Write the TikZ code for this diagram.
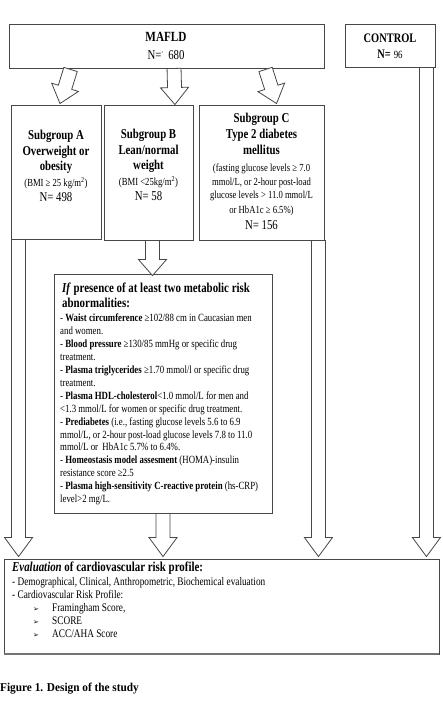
\documentclass[tikz,border=0pt]{standalone}
\usepackage{fontspec}
\setmainfont[FakeStretch=0.8]{Liberation Serif}
\newfontfamily\capfont[FakeStretch=0.94]{Liberation Serif}
\newfontfamily\symfont{DejaVu Sans}
\usetikzlibrary{calc}
\tikzset{
  box/.style={draw=black!72, line width=0.9pt, fill=white, inner sep=0pt},
  barrow/.style={draw=black!72, line width=0.8pt, fill=white, line join=miter},
  txt/.style={inner sep=0pt, align=center},
}
\newcommand\sm{\fontsize{10.8}{11}\selectfont}
\newcommand\blockarrow[3][18]{%
  \path[barrow] let \p1=#2, \p2=#3,
    \n1={atan2(\y2-\y1,\x2-\x1)}, \n2={veclen(\x2-\x1,\y2-\y1)} in
    {[shift={(\p1)}, rotate=\n1] (0,-7) -- ({\n2-#1},-7) -- ({\n2-#1},-14) -- (\n2,0)
      -- ({\n2-#1},14) -- ({\n2-#1},7) -- (0,7) -- cycle};}
\begin{document}
\begin{tikzpicture}[x=1pt,y=-1pt]
\useasboundingbox[fill=white] (0,0) rectangle (443,707);
% boxes
\node[box, minimum width=315pt, minimum height=44pt] (mafld) at (166.5,46) {};
\node[box, minimum width=90pt, minimum height=43pt] (control) at (390,45.5) {};
\node[box, minimum width=90pt, minimum height=134pt] (subA) at (56,172) {};
\node[box, minimum width=89pt, minimum height=135pt] (subB) at (148.5,172.5) {};
\node[box, minimum width=125pt, minimum height=135pt] (subC) at (261.5,172.5) {};
\node[box, minimum width=218pt, minimum height=239pt] (ifbox) at (163,393.5) {};
\node[box, minimum width=435pt, minimum height=95pt] (eval) at (221.5,606.5) {};
\draw[black!55, line width=1.6pt] ($(eval.south west)+(0,-0.6)$) -- ($(eval.south east)+(0,-0.6)$);
% arrows
\blockarrow[17]{($(mafld.south west)+(62,1)$)}{($(subA.north)+(4,-1)$)}
\blockarrow[17]{($(mafld.south west)+(165.5,0)$)}{($(subB.north east)+(-18.5,0)$)}
\blockarrow[17]{($(mafld.south west)+(257,1)$)}{($(subC.north west)+(78,-1)$)}
\blockarrow[19]{($(control.south east)+(-9,0)$)}{($(control.south east |- eval.north)+(-9,-2)$)}
\blockarrow[19]{($(subA.south west)+(8,0)$)}{($(subA.south west |- eval.north)+(8,-2)$)}
\blockarrow[16]{($(subB.south)+(4,0)$)}{($(subB.south |- ifbox.north)+(4,2)$)}
\blockarrow[19]{($(subC.south east)+(-6,0)$)}{($(subC.south east |- eval.north)+(-6,-2)$)}
\blockarrow[19]{(ifbox.south)}{($(ifbox.south |- eval.north)+(0,-2)$)}
% texts
\node[txt, font=\fontsize{13.5}{18}\selectfont] (mafldtxt) at (166,46)
  {\textbf{\fontsize{14}{18}\selectfont MAFLD}\\N=\raisebox{3pt}{\fontsize{7}{7}\selectfont'}\hspace{5pt}680};
\node[txt, font=\fontsize{13}{16}\selectfont] (controltxt) at (390,46)
  {\textbf{CONTROL}\\\textbf{N=}\hspace{3pt}{\fontsize{11}{11}\selectfont 96}};
\node[txt, font=\fontsize{13.5}{15.4}\selectfont] (atxt) at (56,166)
  {\textbf{Subgroup A}\\\textbf{Overweight or}\\\textbf{obesity}\\{\sm (BMI ≥ 25 kg/m\textsuperscript{2})}\\N= 498};
\node[txt, font=\fontsize{13.5}{15.4}\selectfont] (btxt) at (148.5,165)
  {\textbf{Subgroup B}\\\textbf{Lean/normal}\\\textbf{weight}\\{\sm (BMI <25kg/m\textsuperscript{2})}\\N= 58};
\node[txt, font=\fontsize{13.5}{16}\selectfont] (ctxt) at (261.5,171.5)
  {\textbf{Subgroup C}\\\textbf{Type 2 diabetes}\\\textbf{mellitus}\\[1pt]
   {\sm (fasting glucose levels ≥ 7.0}\\[-2pt]
   {\sm mmol/L, or 2-hour post-load}\\[-3pt]
   {\sm glucose levels > 11.0 mmol/L}\\[-1pt]
   {\sm or HbA1c ≥ 6.5\%)}\\N= 156};
\node[txt, align=left, anchor=north west, font=\fontsize{13.6}{14.5}\selectfont\bfseries] (ifhead) at (62,283)
  {\textit{If} presence of at least two metabolic risk\\abnormalities:};
\node[txt, align=left, anchor=north west, font=\fontsize{11}{12.9}\selectfont] (ifitems) at (60,314)
  {- \textbf{Waist circumference} ≥102/88 cm in Caucasian men\\
   and women.\\
   - \textbf{Blood pressure} ≥130/85 mmHg or specific drug\\
   treatment.\\
   - \textbf{Plasma triglycerides} ≥1.70 mmol/l or specific drug\\
   treatment.\\
   - \textbf{Plasma HDL-cholesterol}<1.0 mmol/L for men and\\
   <1.3 mmol/L for women or specific drug treatment.\\
   - \textbf{Prediabetes} (i.e., fasting glucose levels 5.6 to 6.9\\
   mmol/L, or 2-hour post-load glucose levels 7.8 to 11.0\\
   mmol/L or \ HbA1c 5.7\% to 6.4\%.\\
   - \textbf{Homeostasis model assesment} (HOMA)-insulin\\
   resistance score ≥2.5\\
   - \textbf{Plasma high-sensitivity C-reactive protein} (hs-CRP)\\
   level>2 mg/L.};
\node[txt, align=left, anchor=north west, font=\fontsize{13.6}{14.5}\selectfont\bfseries] (evalhead) at (12,562)
  {\textit{Evaluation} of cardiovascular risk profile:};
\node[txt, align=left, anchor=north west, font=\fontsize{11.6}{13}\selectfont] (evalitems) at (12,577)
  {- Demographical, Clinical, Anthropometric, Biochemical evaluation\\
   - Cardiovascular Risk Profile:\\
   \hspace*{21pt}\makebox[19pt][l]{\symfont\fontsize{7}{7}\selectfont ➢}Framingham Score,\\
   \hspace*{21pt}\makebox[19pt][l]{\symfont\fontsize{7}{7}\selectfont ➢}SCORE\\
   \hspace*{21pt}\makebox[19pt][l]{\symfont\fontsize{7}{7}\selectfont ➢}ACC/AHA Score};
\node[txt, anchor=west, font=\capfont\bfseries\fontsize{12}{14}\selectfont] (caption) at (0,689)
  {Figure 1. Design of the study};
\end{tikzpicture}
\end{document}
